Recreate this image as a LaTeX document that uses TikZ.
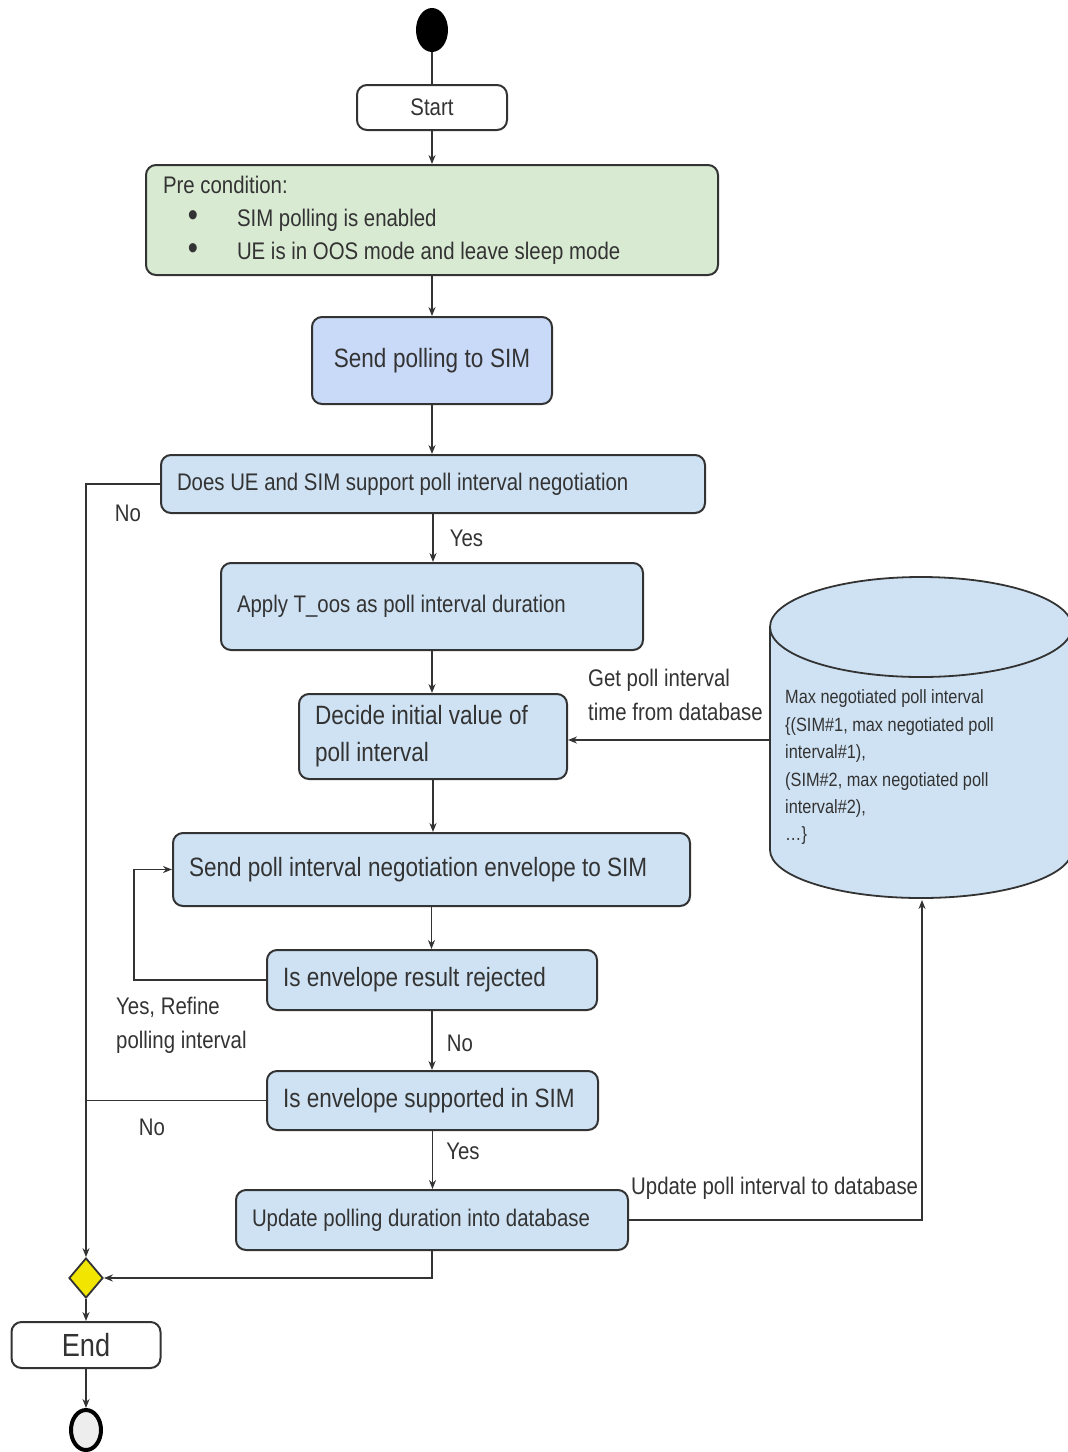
\documentclass[tikz,border=0pt]{standalone}
\usepackage{fontspec}
\setmainfont{Liberation Sans}[FakeStretch=0.85]
\usetikzlibrary{arrows.meta,shapes.geometric}
\definecolor{boxblue}{HTML}{CFE2F3}
\definecolor{pollblue}{HTML}{C9DAF8}
\definecolor{pregreen}{HTML}{D9EAD3}
\definecolor{lineg}{HTML}{333333}
\definecolor{dyellow}{HTML}{F2E600}

\tikzset{
  BoxStyle/.style={draw=lineg, line width=2pt, rounded corners=10pt, fill=boxblue,
    text=lineg, align=left, inner xsep=16pt, inner ysep=0pt,
    execute at begin node={\spaceskip=0pt\xspaceskip=0pt\relax},
    font=\fontsize{24}{33}\selectfont},
  BigBox/.style={BoxStyle, font=\fontsize{26.5}{37}\selectfont},
  EdgeStyle/.style={draw=lineg, line width=1.8pt, -{Stealth[length=9pt,width=7pt]}},
  LineStyle/.style={draw=lineg, line width=1.8pt},
  LabelStyle/.style={text=lineg, inner sep=0pt, align=left,
    font=\fontsize{24}{34}\selectfont}
}

\begin{document}
\begin{tikzpicture}[x=1pt,y=-1pt]
\useasboundingbox (0,0) rectangle (1068,1452);

% database
\fill[boxblue] (921,850) ellipse [x radius=151, y radius=48];
\fill[boxblue] (770,627) rectangle (1072,850);
\draw[LineStyle] (770,627) -- (770,850);
\draw[LineStyle] (1072,627) -- (1072,850);
\begin{scope}
\clip (760,850) rectangle (1080,910);
\draw[LineStyle] (921,850) ellipse [x radius=151, y radius=48];
\end{scope}
\draw[LineStyle, fill=boxblue] (921,627) ellipse [x radius=151, y radius=50];
\node[LabelStyle, anchor=west, font=\fontsize{19.2}{27.4}\selectfont] (dbtext) at (785,767.5)
  {Max negotiated poll interval\\\{(SIM\#1, max negotiated poll\\interval\#1),\\(SIM\#2, max negotiated poll\\interval\#2),\\\dots\}};
\coordinate (dbw) at (770,740);
\coordinate (dbs) at (922,900);

% nodes
\node[ellipse, fill=black, minimum width=32pt, minimum height=44pt, inner sep=0pt] (init) at (432,30) {};
\node[BoxStyle, fill=white, align=center, text width=118pt, minimum height=45pt] (start) at (432,107.5) {Start};
\node[BoxStyle, fill=pregreen, inner xsep=17pt, text width=538pt, minimum height=110pt] (pre) at (432,220)
  {Pre condition:\\
   \makebox[60pt]{\fontsize{34}{33}\selectfont\textbullet}\hspace{14pt}SIM polling is enabled\\
   \makebox[60pt]{\fontsize{34}{33}\selectfont\textbullet}\hspace{14pt}UE is in OOS mode and leave sleep mode};
\node[BigBox, fill=pollblue, align=center, text width=208pt, minimum height=87pt] (poll) at (432,360.5) {Send polling to SIM};
\node[BoxStyle, text width=512pt, minimum height=58pt] (negot) at (433,484) {Does UE and SIM support poll interval negotiation};
\node[BoxStyle, text width=390pt, minimum height=87pt] (apply) at (432,606.5) {Apply T\_oos as poll interval duration};
\node[BigBox, text width=236pt, minimum height=85pt] (decide) at (433,736.5) {Decide initial value of\\poll interval};
\node[BigBox, text width=485pt, minimum height=73pt] (envneg) at (431.5,869.5) {Send poll interval negotiation envelope to SIM};
\node[BigBox, text width=298pt, minimum height=60pt] (reject) at (432,980) {Is envelope result rejected};
\node[BigBox, text width=299pt, minimum height=59pt] (support) at (432.5,1100.5) {Is envelope supported in SIM};
\node[BoxStyle, text width=360pt, minimum height=60pt] (update) at (432,1220) {Update polling duration into database};
\node[diamond, draw=lineg, line width=1.8pt, fill=dyellow, minimum width=34pt, minimum height=40pt, inner sep=0pt] (merge) at (86,1278) {};
\node[BoxStyle, fill=white, align=center, text width=117pt, minimum height=46pt, font=\fontsize{32}{38}\selectfont] (end) at (86,1345) {End};
\node[ellipse, draw=black, line width=4pt, fill=black!7, minimum width=30pt, minimum height=40pt, inner sep=0pt] (final) at (86,1430) {};

% labels
\node[LabelStyle] (no1) at (128,513) {No};
\node[LabelStyle] (no2) at (152,1127) {No};
\node[LabelStyle, anchor=west] (getdb) at (588,694.5) {Get poll interval\\time from database};
\node[LabelStyle, anchor=west] (refine) at (116,1025) {Yes, Refine\\polling interval};
\node[LabelStyle, anchor=west] (upddb) at (631,1188) {Update poll interval to database};

% edges
\draw[LineStyle] (init) -- (start);
\draw[EdgeStyle] (start) -- (pre);
\draw[EdgeStyle] (pre.south) -- (pre.south |- poll.north);
\draw[EdgeStyle] (poll.south) -- (poll.south |- negot.north);
\draw[EdgeStyle] (negot.south) -- (negot.south |- apply.north) node[LabelStyle, pos=0.5, right=16pt] {Yes};
\draw[EdgeStyle] (apply.south) -- (apply.south |- decide.north);
\draw[EdgeStyle] (decide.south) -- (decide.south |- envneg.north);
\draw[EdgeStyle] (envneg.south) -- (envneg.south |- reject.north);
\draw[EdgeStyle] (reject.south) -- (reject.south |- support.north) node[LabelStyle, pos=0.55, right=14pt] {No};
\draw[EdgeStyle] (support.south) -- (support.south |- update.north) node[LabelStyle, pos=0.35, right=13pt] {Yes};
\draw[EdgeStyle] (dbw) -- (dbw -| decide.east);
\draw[EdgeStyle] (negot.west) -| (merge.north);
\draw[LineStyle] (support.west) -- (support.west -| merge.north);
\draw[EdgeStyle] (reject.west) -- ++(-132,0) |- (envneg.west);
\draw[EdgeStyle] (update.east) -| (dbs);
\draw[EdgeStyle] (update.south) |- (merge.east);
\draw[EdgeStyle] (merge.south) -- (end.north);
\draw[EdgeStyle] (end.south) -- (final.north);
\end{tikzpicture}
\end{document}
